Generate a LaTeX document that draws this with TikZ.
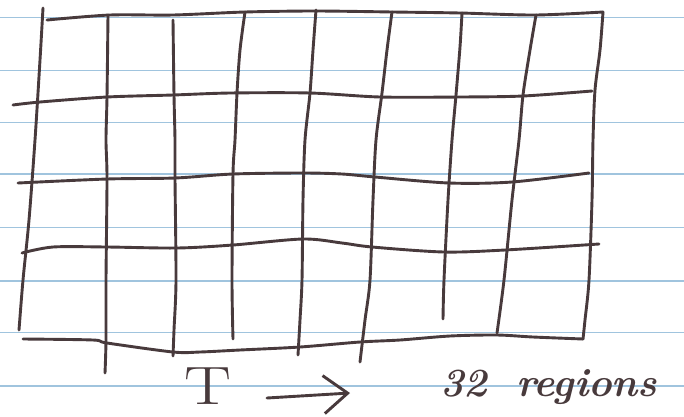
\documentclass[tikz,border=0pt]{standalone}
\usetikzlibrary{arrows.meta}
\definecolor{ink}{RGB}{72,58,60}
\definecolor{rule}{RGB}{160,196,222}
\tikzset{
  ruleline/.style={rule, line width=1.1pt},
  inkline/.style={ink, line width=2.9pt, line cap=round, line join=round},
  handtext/.style={ink, inner sep=0pt, anchor=base west}
}
\begin{document}
\begin{tikzpicture}[x=1pt,y=-1pt]
\useasboundingbox[fill=white] (0,0) rectangle (684,416);
% ruled paper
\foreach \yy in {17.3,70.7,122.3,174,227.7,281,332.7,386}
  \draw[ruleline] (0,\yy) -- (684,\yy);
% vertical strokes
\draw[inkline] plot[smooth] coordinates {(43,8) (40,60) (35,140) (29,220) (23,280) (19,330)};
\draw[inkline] plot[smooth] coordinates {(108,15) (107,97) (106,140) (107,179) (106,280) (106,340) (105,373)};
\draw[inkline] plot[smooth] coordinates {(173,20) (174,95) (175,140) (175,178) (176,280) (174,330) (173,356)};
\draw[inkline] plot[smooth] coordinates {(245,12) (240,50) (237,93) (235,140) (233,174) (232,280) (233,339)};
\draw[inkline] plot[smooth] coordinates {(316,10) (313,50) (310,93) (305,140) (303,200) (302,280) (300,320) (298,355)};
\draw[inkline] plot[smooth] coordinates {(392,12) (387,50) (382,93) (376,140) (373,200) (370,280) (365,320) (360,362)};
\draw[inkline] plot[smooth] coordinates {(462,13) (460,47) (456,95) (452,140) (448,200) (444,280) (443,319)};
\draw[inkline] plot[smooth] coordinates {(536,15) (530,50) (523,95) (519,140) (512,200) (504,280) (497,333)};
\draw[inkline] plot[smooth] coordinates {(603,12) (600,50) (595,90) (593,140) (592,200) (589,280) (585,320) (583,339)};
% horizontal strokes
\draw[inkline] plot[smooth] coordinates {(47,20) (110,15) (173,15) (245,12) (315,11) (393,12) (460,13) (535,15) (603,12)};
\draw[inkline] plot[smooth] coordinates {(13,105) (40,102) (107,97) (173,95) (230,93) (310,93) (380,97) (460,97) (523,96) (592,91)};
\draw[inkline] plot[smooth] coordinates {(18,183) (107,179) (175,178) (233,174) (303,173) (342,174) (375,177) (449,183) (512,182) (589,173)};
\draw[inkline] plot[smooth] coordinates {(22,253) (53,247) (107,247) (177,248) (233,245) (303,239) (342,243) (372,247) (444,252) (505,250) (599,244)};
\draw[inkline] plot[smooth] coordinates {(23,339) (93,340) (107,343) (173,352) (200,352) (240,350) (300,347) (360,342) (400,340) (450,336) (497,335) (533,337) (583,339)};
% bottom note
\node[handtext] (T) at (184,404) {\fontsize{54}{54}\selectfont\scalebox{1.3}[1]{T}};
\coordinate (a1) at (267,398);
\coordinate (a2) at (350,393);
\draw[inkline, -{Straight Barb[length=24pt,width=38pt]}] (a1) -- (a2);
\node[handtext] (lbl) at (440,396) {\fontsize{40}{40}\selectfont\bfseries\itshape 32\hspace{0.3em} regions};
\end{tikzpicture}
\end{document}
